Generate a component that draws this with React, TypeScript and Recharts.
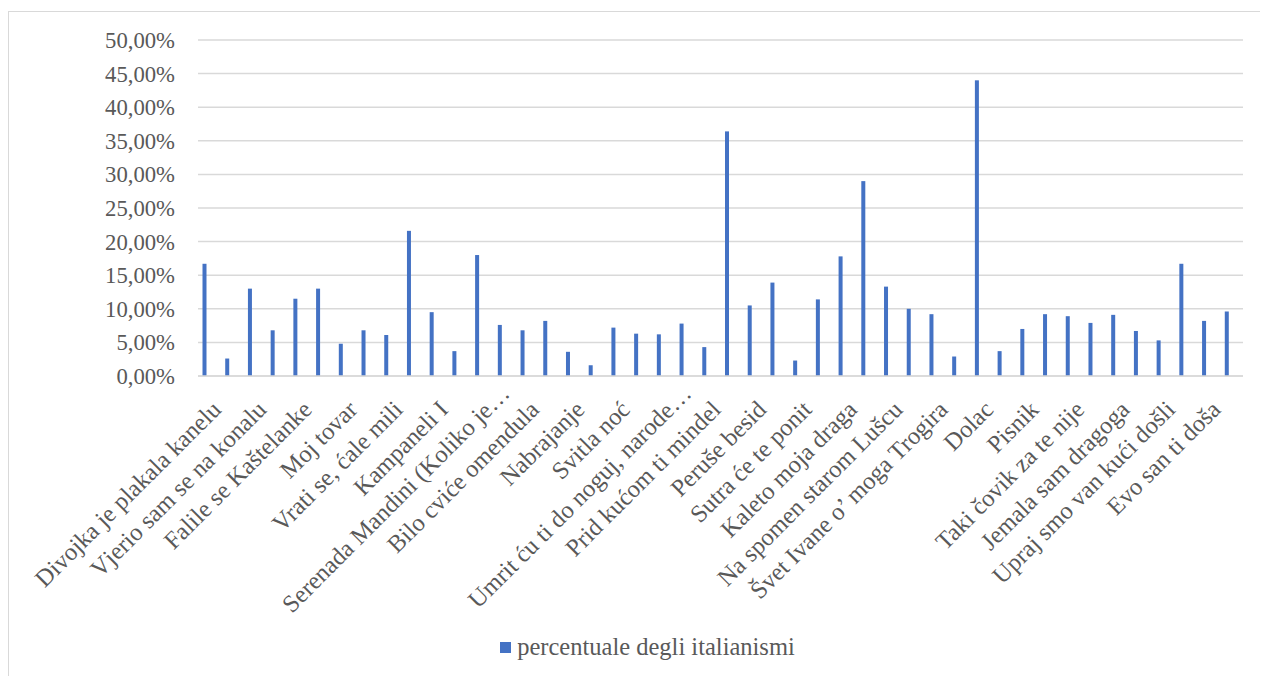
import React from 'react';
import { BarChart, Bar, XAxis, YAxis, CartesianGrid, Legend } from 'recharts';

const categories: string[] = [
  'Divojka je plakala kanelu', '',
  'Vjerio sam se na konalu', '',
  'Falile se Kaštelanke', '',
  'Moj tovar', '',
  'Vrati se, ćale mili', '',
  'Kampaneli I', '',
  'Serenada Mandini (Koliko je…', '',
  'Bilo cviće omendula', '',
  'Nabrajanje', '',
  'Svitla noć', '',
  'Umrit ću ti do noguj, narode…', '',
  'Prid kućom ti mindel', '',
  'Peruše besid', '',
  'Sutra će te ponit', '',
  'Kaleto moja draga', '',
  'Na spomen starom Lušcu', '',
  'Švet Ivane o’ moga Trogira', '',
  'Dolac', '',
  'Pisnik', '',
  'Taki čovik za te nije', '',
  'Jemala sam dragoga', '',
  'Upraj smo van kući došli', '',
  'Evo san ti doša', '',
];

const values: number[] = [
  16.7, 2.6, 13.0, 6.8, 11.5, 13.0, 4.8, 6.8, 6.1, 21.6,
  9.5, 3.7, 18.0, 7.6, 6.8, 8.2, 3.6, 1.6, 7.2, 6.3,
  6.2, 7.8, 4.3, 36.4, 10.5, 13.9, 2.3, 11.4, 17.8, 29.0,
  13.3, 10.0, 9.2, 2.9, 44.0, 3.7, 7.0, 9.2, 8.9, 7.9,
  9.1, 6.7, 5.3, 16.7, 8.2, 9.6,
];

const yTicks: number[] = [0, 5, 10, 15, 20, 25, 30, 35, 40, 45, 50];
const seriesName = 'percentuale degli italianismi';

const data = categories.map((c, i) => ({ idx: i, name: c, value: values[i] }));

const FONT = '"Liberation Serif", "Times New Roman", serif';
const TEXT = '#595959';
const BLUE = '#4472c4';
const GRID = '#d9d9d9';

const fmt = (v: number) => v.toFixed(2).replace('.', ',') + '%';

const XTick = (props: any) => {
  const { x, y, payload } = props;
  const label = categories[payload.value] ?? '';
  const shift = label.endsWith('…') ? 16 : 0;
  return (
    <g transform={`translate(${x + 13 + shift},${y + 35 - shift})`}>
      <text
        x={0}
        y={0}
        transform="rotate(-45)"
        textAnchor="end"
        fill={TEXT}
        fontSize={24.5}
        fontFamily={FONT}
      >
        {label}
      </text>
    </g>
  );
};

const BarShape = (props: any) => {
  const { x, y, width, height } = props;
  if (!height || height <= 0) return null;
  return <rect x={x - 4.5} y={y} width={width} height={height} fill={BLUE} />;
};

const LegendContent = () => (
  <div
    style={{
      display: 'flex',
      justifyContent: 'center',
      alignItems: 'center',
      height: 30,
      paddingLeft: 43,
      fontFamily: FONT,
      fontSize: 24.5,
      color: TEXT,
    }}
  >
    <svg width={11} height={11} style={{ flex: '0 0 11px', marginRight: 6, display: 'block' }}>
      <rect x={0} y={0} width={11} height={11} fill={BLUE} />
    </svg>
    <span style={{ whiteSpace: 'nowrap' }}>{seriesName}</span>
  </div>
);

export default function App() {
  return (
    <div
      style={{
        position: 'relative',
        width: 1259,
        height: 664,
        marginTop: 3,
        borderTop: `1px solid ${GRID}`,
        borderLeft: `1px solid ${GRID}`,
        background: '#fff',
      }}
    >
      <BarChart
        width={1259}
        height={664}
        data={data}
        margin={{ top: 28, right: 25, left: 0, bottom: 14 }}
      >
        <CartesianGrid vertical={false} stroke={GRID} strokeWidth={1.5} />
        <XAxis
          dataKey="idx"
          type="category"
          interval={1}
          height={256}
          tickLine={false}
          tickSize={0}
          tickMargin={0}
          axisLine={{ stroke: GRID, strokeWidth: 1.5 }}
          tick={<XTick />}
        />
        <YAxis
          width={189}
          domain={[0, 50]}
          ticks={yTicks}
          tickFormatter={fmt}
          axisLine={false}
          tickLine={false}
          tickSize={0}
          tickMargin={23}
          tick={{ fill: TEXT, fontSize: 22.7, fontFamily: FONT }}
        />
        <Legend verticalAlign="bottom" content={<LegendContent />} />
        <Bar
          dataKey="value"
          name={seriesName}
          fill={BLUE}
          barSize={4}
          shape={<BarShape />}
          isAnimationActive={false}
        />
      </BarChart>
    </div>
  );
}
